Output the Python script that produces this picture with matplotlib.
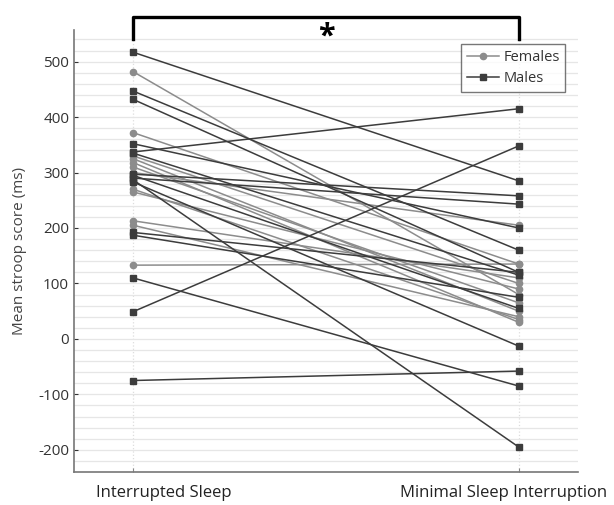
import numpy as np
import matplotlib
matplotlib.use("Agg")
import matplotlib.pyplot as plt

plt.rcParams['font.family'] = ['Open Sans', 'DejaVu Sans']
plt.rcParams['axes.unicode_minus'] = False

# stroop scores (ms): interrupted sleep vs minimal sleep interruption
conditions = ['Interrupted Sleep', 'Minimal Sleep Interruption']

males_interrupted = [517, 447, 432, 352, 337, 335, 297, 290, 287, 283, 192, 187, 110, 49, -75, 295]
males_minimal = [285, 160, 120, 200, 415, 115, 258, 243, -195, -13, 120, 75, -85, 348, -58, 55]

females_interrupted = [482, 372, 325, 318, 310, 300, 265, 213, 205, 133, 330, 270]
females_minimal = [80, 135, 50, 30, 65, 205, 90, 110, 40, 135, 100, 35]

fig = plt.figure(figsize=(6.14, 5.05), dpi=100)
ax = fig.add_axes([0.1205, 0.0653, 0.8205, 0.8753])

x = [1, 2]
female_col = '#8c8c8c'
male_col = '#3c3c3c'

for a, b in zip(females_interrupted, females_minimal):
    ax.plot(x, [a, b], color=female_col, lw=1.1, marker='o', ms=4.5, zorder=3)
for a, b in zip(males_interrupted, males_minimal):
    ax.plot(x, [a, b], color=male_col, lw=1.1, marker='s', ms=4.5, zorder=4)

# legend handles
ax.plot([], [], color=female_col, lw=1.1, marker='o', ms=4.5, label='Females')
ax.plot([], [], color=male_col, lw=1.1, marker='s', ms=4.5, label='Males')
leg = ax.legend(loc='upper right', bbox_to_anchor=(0.99, 0.985), fancybox=False,
                edgecolor='#555555', fontsize=10.5, handlelength=2.2,
                borderpad=0.4, labelspacing=0.45, handletextpad=0.3)
leg.get_frame().set_linewidth(1.0)
for t in leg.get_texts():
    t.set_color('#333333')

ax.set_xlim(0.847, 2.153)
ax.set_ylim(-240, 557)
ax.set_yticks(np.arange(-200, 501, 100))
ax.set_yticks(np.arange(-240, 557, 20), minor=True)
ax.set_xticks(x)
ax.set_xticklabels([])
ax.tick_params(axis='y', labelsize=11, colors='#333333', length=3, direction='in')
ax.tick_params(axis='y', which='minor', length=0)
ax.tick_params(axis='x', length=3, colors='#888888', direction='in')
ax.grid(axis='y', which='both', color='#e6e6e6', lw=0.9, zorder=0)
ax.grid(axis='x', color='#dddddd', lw=0.9, ls=':', zorder=0)

for s in ['top', 'right']:
    ax.spines[s].set_visible(False)
for s in ['left', 'bottom']:
    ax.spines[s].set_color('#777777')
    ax.spines[s].set_linewidth(1.2)

ax.set_ylabel('Mean stroop score (ms)', fontsize=11, color='#444444', labelpad=8)

# significance bracket
by = 580
ax.plot([1, 1, 2, 2], [540, by, by, 540], color='black', lw=2.4,
        solid_joinstyle='round', clip_on=False, zorder=6)
ax.text(1.5, 546, '*', ha='center', va='center', fontsize=22, fontweight='bold',
        clip_on=False)

fig.text(0.267, 0.024, conditions[0], ha='center', va='center', fontsize=12, color='#222222')
fig.text(0.82, 0.024, conditions[1], ha='center', va='center', fontsize=12, color='#222222')

fig.savefig('out.png', dpi=100)
